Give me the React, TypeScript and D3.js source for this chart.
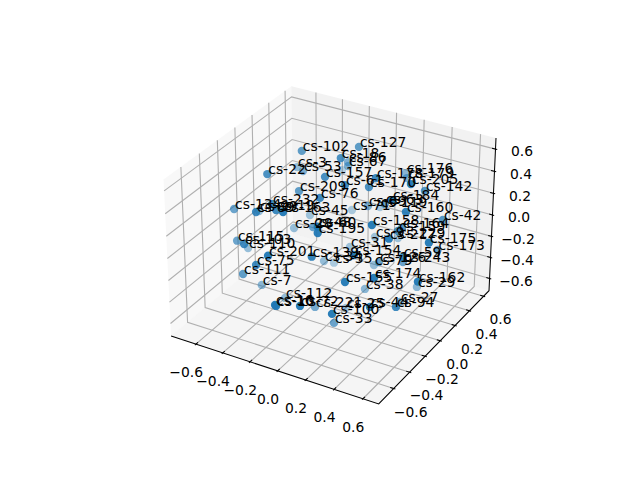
import React from "react";
import * as d3 from "d3";

const W = 640, H = 480;
const xLim = [-0.757, 0.678];
const yLim = [-0.754, 0.65];
const zLim = [-0.69, 0.67];
const ticks3d = [-0.6, -0.4, -0.2, 0, 0.2, 0.4, 0.6];
const tickText = ["\u22120.6", "\u22120.4", "\u22120.2", "0.0", "0.2", "0.4", "0.6"];

const labels = ["cs-102","cs-127","cs-18","cs-86","cs-67","","cs-22","cs-3","cs-53","cs-157","cs-209","cs-76","cs-61","cs-170","cs-178","cs-176","cs-179","cs-205","cs-142","cs-184","cs-63","cs-69","cs-119","cs-71","cs-160","cs-42","cs-158","cs-164","cs-159","cs-9","cs-217","cs-229","cs-175","cs-173","cs-59","cs-243","cs-79","cs-126","cs-31","cs-154","cs-139","cs-34","cs-35","cs-174","cs-155","cs-38","cs-162","cs-29","cs-27","cs-94","cs-44","cs-25","cs-100","cs-33","cs-221","cs-112","cs-16","cs-10","cs-72","cs-7","cs-111","cs-75","cs-201","cs-115","cs-103","cs-110","cs-28","cs-48","cs-60","cs-195","cs-45","cs-232","cs-163","cs-134","cs-89","cs-99","cs-19"];
// coordinates in the projected view plane (x 1000)
const planeU = [-15.6,13,3.9,7.5,7.5,4.5,-32.9,-18,-15,-4,-17,-6.5,6,18,21.5,36.5,37,39,46,29.5,26,17.5,23.5,9.5,36.5,55,19.5,34.5,32.5,21,28,32.5,48,52.35,35,35,20.5,23,8.5,10.5,-10.65,-4.5,0.5,20.5,6,16,42.5,42,33.5,31.5,18.5,6.5,-0.5,0.5,-9,-24,-29,-28.5,-16.5,-35.65,-45,-38.5,-32.5,-48,-44.5,-42.5,-19.5,-10,-7.65,-7.65,-11.5,-30.5,-25,-49.5,-38.5,-37,-28.5];
const planeV = [43.3,45.3,39.7,37.7,35.7,33.7,31.7,35.2,33.2,30.3,23.2,19.8,26.2,25.2,29.7,32.2,29.7,26.7,23.3,18.7,16.7,15.7,15.2,13.7,12.7,8.7,6.2,4.7,3.2,0.2,-0.65,-0.3,-2.65,-6.3,-9.8,-12.3,-13.8,-12.3,-4.8,-8.8,-9.65,-11.8,-12.65,-20.3,-22.3,-25.8,-22.15,-24.8,-32.3,-34.8,-34.8,-35.3,-38.3,-42.8,-34.8,-30.3,-33.8,-34.3,-34.3,-23.8,-18.3,-13.8,-9.15,-1.65,-3.3,-5.3,4.7,5.2,5.35,2.2,11.2,16.7,12.7,14.2,12.7,13.2,13.7];
const shade = [0.7,0.7,0.8,0.55,0.55,0.3,0.8,0.45,0.55,0.8,0.7,0.85,0.85,0.8,0.85,0.5,0.55,0.95,0.75,0.95,0.65,0.55,0.35,0.35,0.9,0.75,0.95,0.75,0.8,0.4,0.95,0.4,0.95,0.65,0.85,0.65,0.45,0.65,0.4,0.95,0.9,0.45,0.35,0.95,0.95,0.5,0.95,0.5,0.55,0.85,0.95,0.4,0.95,0.65,0.6,0.45,0.95,0.95,0.95,0.5,0.7,0.85,0.95,0.65,0.85,0.45,0.45,0.65,0.95,0.95,0.4,0.85,0.95,0.65,0.85,0.45,0.85];

const elev = (30 * Math.PI) / 180, azim = (-60 * Math.PI) / 180, dist = 10;
const f = 1.8294640721620434 / Math.sqrt(41);
const box = [4 * f, 4 * f, 3 * f];
const dir = [Math.cos(elev) * Math.cos(azim), Math.cos(elev) * Math.sin(azim), Math.sin(elev)];
const eye = box.map((b, i) => b / 2 + dist * dir[i]);
const un = (() => { const c = [-dir[1], dir[0], 0]; const n = Math.hypot(c[0], c[1]); return [c[0] / n, c[1] / n, 0]; })();
const vn = [dir[1] * un[2] - dir[2] * un[1], dir[2] * un[0] - dir[0] * un[2], dir[0] * un[1] - dir[1] * un[0]];
const dot = (a: number[], b: number[]) => a[0] * b[0] + a[1] * b[1] + a[2] * b[2];

const sx = d3.scaleLinear().domain([-0.095, 0.09]).range([143.2, 512.8]);
const sy = d3.scaleLinear().domain([-0.095, 0.09]).range([427.2, 57.6]);
const wx = d3.scaleLinear().domain(xLim).range([0, box[0]]);
const wy = d3.scaleLinear().domain(yLim).range([0, box[1]]);
const wz = d3.scaleLinear().domain(zLim).range([0, box[2]]);
const planeX = d3.scaleLinear().domain([-95, 90]).range([143.2, 512.8]);
const planeY = d3.scaleLinear().domain([-95, 90]).range([427.2, 57.6]);

function proj(x: number, y: number, z: number): [number, number] {
  const p = [wx(x) - eye[0], wy(y) - eye[1], wz(z) - eye[2]];
  const d = -dot(p, dir);
  return [sx(dot(p, un) / d), sy(dot(p, vn) / d)];
}
const pad = (l: number[]) => { const d = (l[1] - l[0]) / 48; return [l[0] - d, l[1] + d]; };
const [x0, x1] = pad(xLim), [y0, y1] = pad(yLim), [z0, z1] = pad(zLim);
const path = (pts: number[][]) => d3.line()(pts.map((p) => proj(p[0], p[1], p[2]))) as string;
const dx = (xLim[1] - xLim[0]) / 12, dy = (yLim[1] - yLim[0]) / 12;
const font = "'DejaVu Sans'";
const GRID = "#b0b0b0";

export default function App() {
  return (
    <svg width={W} height={H} style={{ position: "absolute", left: 0, top: 0, background: "#fff" }} fontFamily={font} fontSize={13.89}>
      <path d={path([[x0,y0,z0],[x0,y1,z0],[x0,y1,z1],[x0,y0,z1]]) + "Z"} fill="rgb(242,242,242)" fillOpacity={0.5} />
      <path d={path([[x0,y1,z0],[x1,y1,z0],[x1,y1,z1],[x0,y1,z1]]) + "Z"} fill="rgb(230,230,230)" fillOpacity={0.5} />
      <path d={path([[x0,y0,z0],[x1,y0,z0],[x1,y1,z0],[x0,y1,z0]]) + "Z"} fill="rgb(236,236,236)" fillOpacity={0.5} />
      <g fill="none" stroke={GRID} strokeWidth={1.11}>
        {ticks3d.map((t) => <path key={"gx" + t} d={path([[t,y0,z0],[t,y1,z0],[t,y1,z1]])} />)}
        {ticks3d.map((t) => <path key={"gy" + t} d={path([[x1,t,z0],[x0,t,z0],[x0,t,z1]])} />)}
        {ticks3d.map((t) => <path key={"gz" + t} d={path([[x0,y0,t],[x0,y1,t],[x1,y1,t]])} />)}
      </g>
      <g fill="none" stroke="#000" strokeWidth={1.04}>
        <path d={path([[x0,y0,z0],[x1,y0,z0],[x1,y1,z0],[x1,y1,z1]])} />
        {ticks3d.map((t) => <path key={"tx" + t} d={path([[t,y0 + 0.2 * dy,z0],[t,y0 - 0.1 * dy,z0]])} />)}
        {ticks3d.map((t) => <path key={"ty" + t} d={path([[x1 - 0.2 * dx,t,z0],[x1 + 0.1 * dx,t,z0]])} />)}
        {ticks3d.map((t) => <path key={"tz" + t} d={path([[x1 - 0.2 * dx,y1,t],[x1 + 0.1 * dx,y1,t]])} />)}
      </g>
      <g textAnchor="middle" fill="#000">
        {ticks3d.map((t, i) => { const [a, b] = proj(t, y0, z0); return <text key={"lx" + t} x={a - 9.7} y={b + 28} dy="0.36em">{tickText[i]}</text>; })}
        {ticks3d.map((t, i) => { const [a, b] = proj(x1, t, z0); return <text key={"ly" + t} x={a + 17} y={b + 23} dy="0.36em">{tickText[i]}</text>; })}
        {ticks3d.map((t, i) => { const [a, b] = proj(x1, y1, t); return <text key={"lz" + t} x={a + 26.5} y={b + 2.3} dy="0.36em">{tickText[i]}</text>; })}
      </g>
      <g fill="#1f77b4">
        {labels.map((l, i) => (
          <circle key={"p" + i} cx={planeX(planeU[i])} cy={planeY(planeV[i])} r={4.17} fillOpacity={shade[i]} />
        ))}
      </g>
      <g fill="#000">
        {labels.map((l, i) => (
          <text key={"t" + i} x={planeX(planeU[i]) + 1} y={planeY(planeV[i])}>{l}</text>
        ))}
      </g>
    </svg>
  );
}
